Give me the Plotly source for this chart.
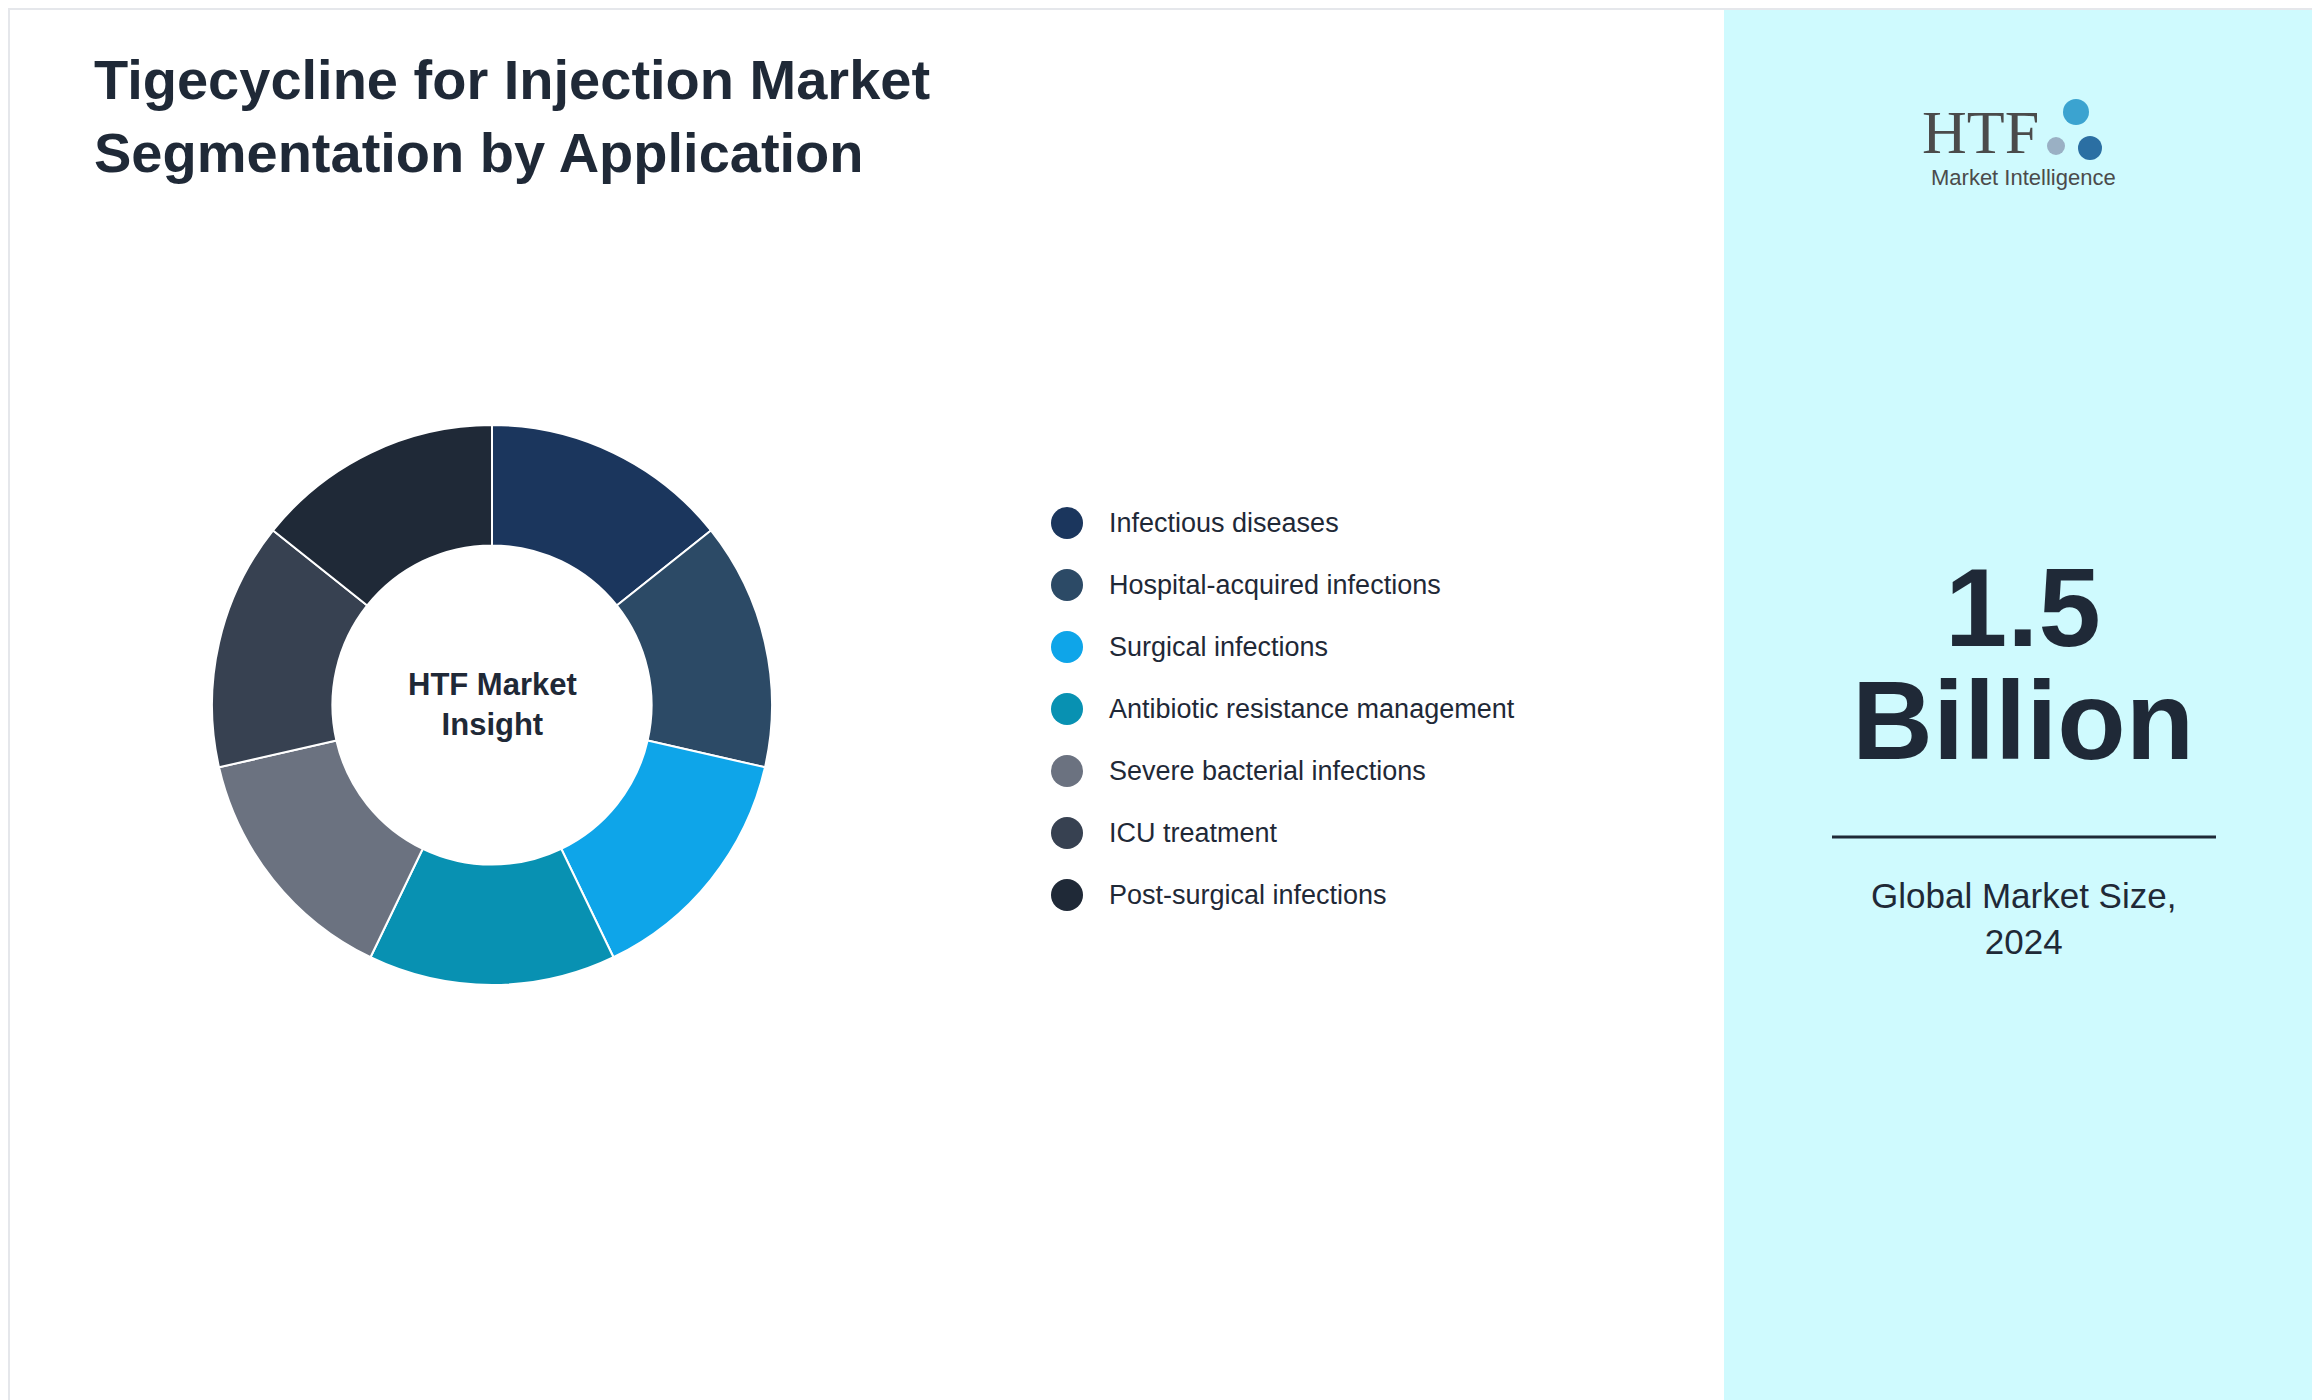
import plotly.graph_objects as go

categories = ["Infectious diseases", "Hospital-acquired infections", "Surgical infections",
              "Antibiotic resistance management", "Severe bacterial infections",
              "ICU treatment", "Post-surgical infections"]
values = [1, 1, 1, 1, 1, 1, 1]
colors = ["#1b365d", "#2c4a66", "#0ea5e9", "#0891b2", "#6b7280", "#374151", "#1f2937"]

W, H = 2320, 1400
fig = go.Figure()
cx, cy, R = 484, 697, 280
fig.add_trace(go.Pie(labels=categories, values=values, hole=0.57, sort=False, direction="clockwise",
                     rotation=0, marker=dict(colors=colors, line=dict(color="white", width=2)),
                     textinfo="none", hoverinfo="label+percent", showlegend=False,
                     domain=dict(x=[(cx - R) / W, (cx + R) / W], y=[(H - cy - R) / H, (H - cy + R) / H])))

shapes = [
    dict(type="rect", xref="paper", yref="paper", x0=1716 / W, x1=1, y0=0, y1=1,
         fillcolor="#cffafe", line=dict(width=0), layer="below"),
    dict(type="rect", xref="paper", yref="paper", x0=0, x1=1, y0=0, y1=1,
         line=dict(color="#e5e7eb", width=4)),
    dict(type="line", xref="paper", yref="paper", x0=1824 / W, x1=2208 / W,
         y0=1 - 829 / H, y1=1 - 829 / H, line=dict(color="#1f2937", width=3)),
]
C = dict(xanchor="center", yanchor="middle", showarrow=False)
ann = [
    dict(text="<b>Tigecycline for Injection Market<br>Segmentation by Application</b>",
         x=84 / W, y=1 - 38 / H, xanchor="left", yanchor="top", align="left",
         font=dict(size=56, color="#1f2937"), showarrow=False),
    dict(text="<b>HTF Market<br>Insight</b>", x=cx / W, y=1 - cy / H, font=dict(size=31, color="#1f2937"), **C),
    dict(text="<b>1.5</b>", x=2015 / W, y=1 - 599 / H, font=dict(size=112, color="#1f2937"), **C),
    dict(text="<b>Billion</b>", x=2015 / W, y=1 - 712 / H, font=dict(size=112, color="#1f2937"), **C),
    dict(text="Global Market Size,<br>2024", x=2015 / W, y=1 - 910 / H, font=dict(size=35, color="#1f2937"), **C),
    dict(text="HTF", x=1972 / W, y=1 - 124 / H, font=dict(size=62, color="#4b4b4b", family="Liberation Serif"), **C),
    dict(text="Market Intelligence", x=2015 / W, y=1 - 169 / H, font=dict(size=22, color="#4b4b4b"), **C),
]
for i, (c, col) in enumerate(zip(categories, colors)):
    y = 515 + i * 62
    shapes.append(dict(type="circle", xref="paper", yref="paper",
                       x0=(1059 - 16) / W, x1=(1059 + 16) / W, y0=1 - (y + 16) / H, y1=1 - (y - 16) / H,
                       fillcolor=col, line=dict(width=0)))
    ann.append(dict(text=c, x=1099 / W, y=1 - y / H, xanchor="left", yanchor="middle", showarrow=False,
                    font=dict(size=27, color="#1f2937")))
for (x, y, r, col) in [(2068, 104, 13, "#3ba3d0"), (2082, 140, 12, "#2b6fa3"), (2048, 138, 9, "#9ab0c4")]:
    shapes.append(dict(type="circle", xref="paper", yref="paper", x0=(x - r) / W, x1=(x + r) / W,
                       y0=1 - (y + r) / H, y1=1 - (y - r) / H, fillcolor=col, line=dict(width=0)))

fig.update_layout(width=W, height=H, margin=dict(l=0, r=0, t=0, b=0), paper_bgcolor="white",
                  font=dict(family="Liberation Sans, Arial"), shapes=shapes, annotations=ann)
fig.write_html("out.html")
